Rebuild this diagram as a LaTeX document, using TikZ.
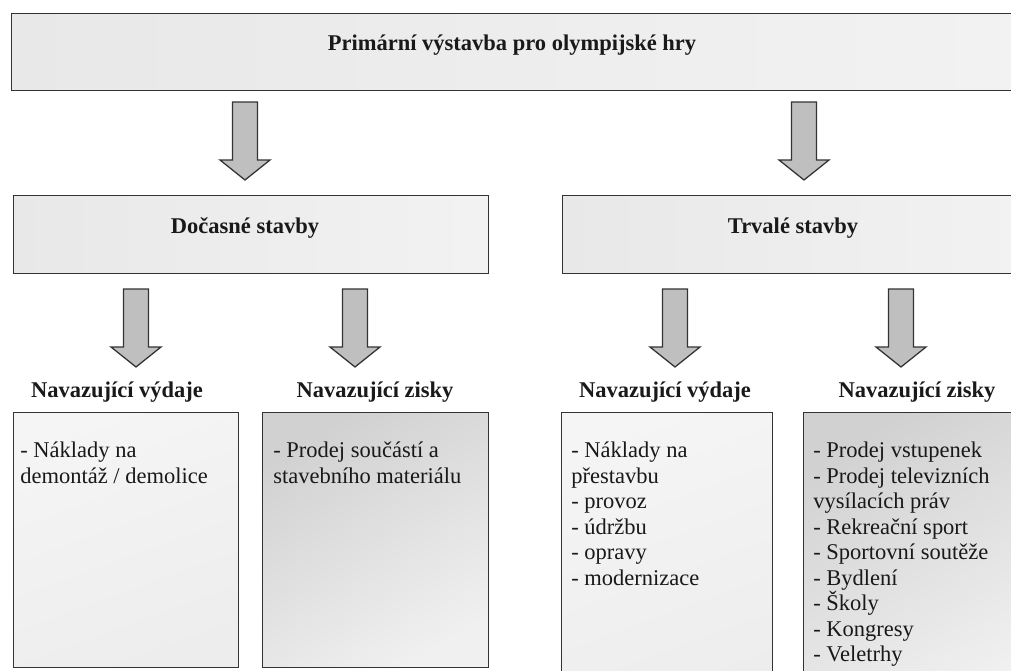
\documentclass[tikz,border=0pt]{standalone}
\usepackage{fontspec}
\setmainfont{Liberation Serif}
\usetikzlibrary{positioning}

\def\px{0.025cm}
% fat grey arrow pointing down, #1 = x of the middle, #2 = y of the top
\newcommand{\fatarrow}[2]{%
  \draw[bigarrow] (#1-12.5,#2) -- (#1+12.5,#2) -- (#1+12.5,#2+58) -- (#1+25,#2+58)
    -- (#1,#2+78) -- (#1-25,#2+58) -- (#1-12.5,#2+58) -- cycle;}

\tikzset{
  box/.style={draw=black!80, line width=0.9pt, rectangle, anchor=north west, inner sep=0pt},
  headbox/.style={box, left color=black!9, right color=black!5},
  costbox/.style={box, top color=black!4, bottom color=black!7, shading angle=20},
  gainbox/.style={box, top color=black!18, bottom color=black!6, shading angle=30},
  bigarrow/.style={draw=black!80, line width=0.9pt, fill=black!25, line join=miter},
  title/.style={font=\fontsize{16}{18}\selectfont\bfseries, text=black!90, anchor=base, inner sep=0pt},
  list/.style={font=\fontsize{16}{18.1}\selectfont, text=black!90, align=left, anchor=north west, inner sep=0pt}
}

\begin{document}
\begin{tikzpicture}[x=\px, y=-\px]
  \useasboundingbox (0,0) rectangle (1011,670);
  \clip (0,0) rectangle (1011,670);

  % boxes
  \node (top) [headbox, minimum width=1020*\px, minimum height=77*\px] at (11,13) {};
  \node (doc) [headbox, minimum width=475*\px, minimum height=78*\px] at (13,195) {};
  \node (trv) [headbox, minimum width=470*\px, minimum height=78*\px] at (562,195) {};
  \node (vl) [costbox, minimum width=225*\px, minimum height=255*\px] at (13,412) {};
  \node (zl) [gainbox, minimum width=226*\px, minimum height=255*\px] at (262,412) {};
  \node (vr) [costbox, minimum width=211*\px, minimum height=290*\px] at (561,412) {};
  \node (zr) [gainbox, minimum width=230*\px, minimum height=290*\px] at (803,412) {};

  % titles
  \node (ttop) [title] at (512,51) {Primární výstavba pro olympijské hry};
  \node (tdoc) [title] at (245,233) {Dočasné stavby};
  \node (ttrv) [title] at (793,233) {Trvalé stavby};
  \node (hvl) [title] at (117,397) {Navazující výdaje};
  \node (hzl) [title] at (375,397) {Navazující zisky};
  \node (hvr) [title] at (665,397) {Navazující výdaje};
  \node (hzr) [title] at (917,397) {Navazující zisky};

  % arrows
  \fatarrow{245}{102}
  \fatarrow{804}{102}
  \fatarrow{136}{289}
  \fatarrow{355}{289}
  \fatarrow{675}{289}
  \fatarrow{901}{289}

  % lists
  \node (lvl) [list] at ([shift={(7,30)}]vl.north west) {- Náklady na\\demontáž / demolice};
  \node (lzl) [list] at ([shift={(11,30)}]zl.north west) {- Prodej součástí a\\stavebního materiálu};
  \node (lvr) [list] at ([shift={(10,30)}]vr.north west) {- Náklady na\\přestavbu\\- provoz\\- údržbu\\- opravy\\- modernizace};
  \node (lzr) [list] at ([shift={(10,30)}]zr.north west) {- Prodej vstupenek\\- Prodej televizních\\vysílacích práv\\- Rekreační sport\\- Sportovní soutěže\\- Bydlení\\- Školy\\- Kongresy\\- Veletrhy};
\end{tikzpicture}
\end{document}
